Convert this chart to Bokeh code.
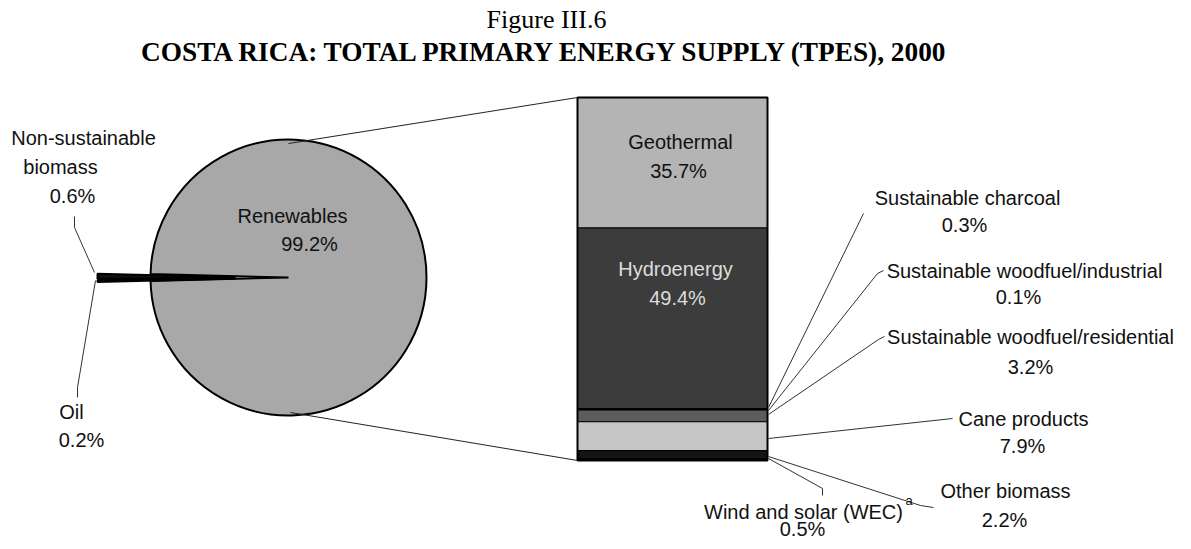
import numpy as np
from bokeh.plotting import figure
from bokeh.models import Range1d, ColumnDataSource
from bokeh.core.properties import value
from bokeh.embed import file_html
from bokeh.resources import INLINE

# ---------------- data ----------------
pie_labels = ["Renewables", "Non-sustainable biomass", "Oil"]
pie_values = [99.2, 0.6, 0.2]

bar_labels = ["Geothermal", "Hydroenergy", "Sustainable charcoal",
              "Sustainable woodfuel/industrial", "Sustainable woodfuel/residential",
              "Cane products", "Other biomass", "Wind and solar (WEC)"]
bar_values = [35.7, 49.4, 0.3, 0.1, 3.2, 7.9, 2.2, 0.5]

title_line1 = "Figure III.6"
title_line2 = "COSTA RICA: TOTAL PRIMARY ENERGY SUPPLY (TPES), 2000"

# ---------------- layout / style ----------------
W, H = 1183, 541

pie_colors = ["#a8a8a8", "#101010", "#101010"]
bar_colors = ["#b4b4b4", "#3c3c3c", "#2a2a2a", "#2a2a2a", "#5c5c5c", "#c6c6c6", "#141414", "#050505"]

PIE_CX, PIE_CY, PIE_R = 288, 277, 138
EXPLODE = 53
BAR_L, BAR_R, BAR_T, BAR_B = 577, 767, 97, 460

p = figure(width=W, height=H, x_range=Range1d(0, W), y_range=Range1d(H, 0),
           x_axis_type=None, y_axis_type=None, min_border=0,
           toolbar_location=None, output_backend="svg")
p.grid.visible = False
p.outline_line_color = None
p.background_fill_color = "white"
p.border_fill_color = "white"

# ---------------- pie ----------------
vals = np.array(pie_values, dtype=float)
fr = vals / vals.sum() * 2 * np.pi
a0 = np.pi + (fr[1] + fr[2]) / 2.0
starts = a0 + np.concatenate([[0.0], np.cumsum(fr)[:-1]])
ends = starts + fr
mids = (starts + ends) / 2
cx = [PIE_CX] + [PIE_CX + EXPLODE * np.cos(m) for m in mids[1:]]
cy = [PIE_CY] + [PIE_CY - EXPLODE * np.sin(m) for m in mids[1:]]
pie_src = ColumnDataSource(dict(x=cx, y=cy, start=list(starts), end=list(ends),
                                color=pie_colors, label=pie_labels))
p.wedge(x="x", y="y", radius=PIE_R, radius_units="screen", start_angle="start",
        end_angle="end", fill_color="color", line_color="black", line_width=2,
        source=pie_src)

# ---------------- stacked bar ----------------
bv = np.array(bar_values, dtype=float)
total = bv.sum()
s = (BAR_B - BAR_T) / total
p.extra_y_ranges = {"bar": Range1d(start=(H - BAR_T) / s, end=(0 - BAR_T) / s)}
tops = np.concatenate([[0.0], np.cumsum(bv)[:-1]])
bottoms = np.cumsum(bv)
bar_src = ColumnDataSource(dict(x=[(BAR_L + BAR_R) / 2] * len(bv), top=list(tops),
                                bottom=list(bottoms), color=bar_colors, label=bar_labels))
p.vbar(x="x", width=BAR_R - BAR_L, top="top", bottom="bottom", fill_color="color",
       line_color="black", line_width=1, source=bar_src, y_range_name="bar")
# outer frame of bar
p.vbar(x=[(BAR_L + BAR_R) / 2], width=BAR_R - BAR_L, top=[0.0], bottom=[total],
       fill_color=None, line_color="black", line_width=2, y_range_name="bar")

# ---------------- connector and leader lines ----------------
p.segment(x0=[288, 290], y0=[143, 412], x1=[BAR_L, BAR_L],
          y1=[BAR_T, BAR_B], line_color="#222", line_width=1)

leaders = [
    [(74, 216), (74, 227), (94, 272)],            # non-sustainable biomass
    [(95, 280), (77, 387), (77, 397)],            # oil
    [(863, 213), (768, 407)],                      # charcoal
    [(883, 270), (877, 273), (768, 410)],          # woodfuel industrial
    [(884, 336), (878, 339), (768, 414)],          # woodfuel residential
    [(952, 418), (768, 438)],                      # cane
    [(933, 507), (920, 505), (768, 456)],          # other biomass
    [(822, 495), (822, 488), (768, 458)],          # wind and solar
]
p.multi_line(xs=[[a for a, b in L] for L in leaders],
             ys=[[b for a, b in L] for L in leaders],
             line_color="#333", line_width=1)

# ---------------- texts ----------------
def pct(v):
    return f"{v:.1f}%"

sans = value("Liberation Sans")
serif = value("Liberation Serif")

def txt(items, color="#111", size=20, font=sans, style="normal", align="center"):
    # y values are visual baselines; the svg text sits ~0.35em lower than its anchor
    dy = 0.35 * size
    p.text(x=[a for a, b, t in items], y=[b - dy for a, b, t in items],
           text=[t for a, b, t in items], text_font=font, text_font_size=f"{size}px",
           text_font_style=style, text_color=color, text_align=align,
           text_baseline="alphabetic")

txt([(546, 28, title_line1)], size=26, font=serif, color="#000")
txt([(546, 61, title_line2)], size=27.3, font=serif, style="bold", color="#000")

dark = [
    (83, 144, "Non-sustainable"), (60, 173, "biomass"), (72, 202, pct(pie_values[1])),
    (71, 418, pie_labels[2]), (81, 446, pct(pie_values[2])),
    (292, 222, pie_labels[0]), (309, 250, pct(pie_values[0])),
    (680, 148, bar_labels[0]), (678, 177, pct(bar_values[0])),
    (967, 204, bar_labels[2]), (964, 231, pct(bar_values[2])),
    (1024, 277, bar_labels[3]), (1018, 303, pct(bar_values[3])),
    (1030, 343, bar_labels[4]), (1030, 373, pct(bar_values[4])),
    (1023, 425, bar_labels[5]), (1022, 452, pct(bar_values[5])),
    (1005, 497, bar_labels[6]), (1004, 526, pct(bar_values[6])),
    (803, 518, bar_labels[7]), (802, 535, pct(bar_values[7])),
]
txt(dark)
txt([(675, 275, bar_labels[1]), (677, 304, pct(bar_values[1]))], color="#dcdcdc")
txt([(905, 505, "a")], size=13, align="left")

open("out.html", "w").write(file_html(p, INLINE))
